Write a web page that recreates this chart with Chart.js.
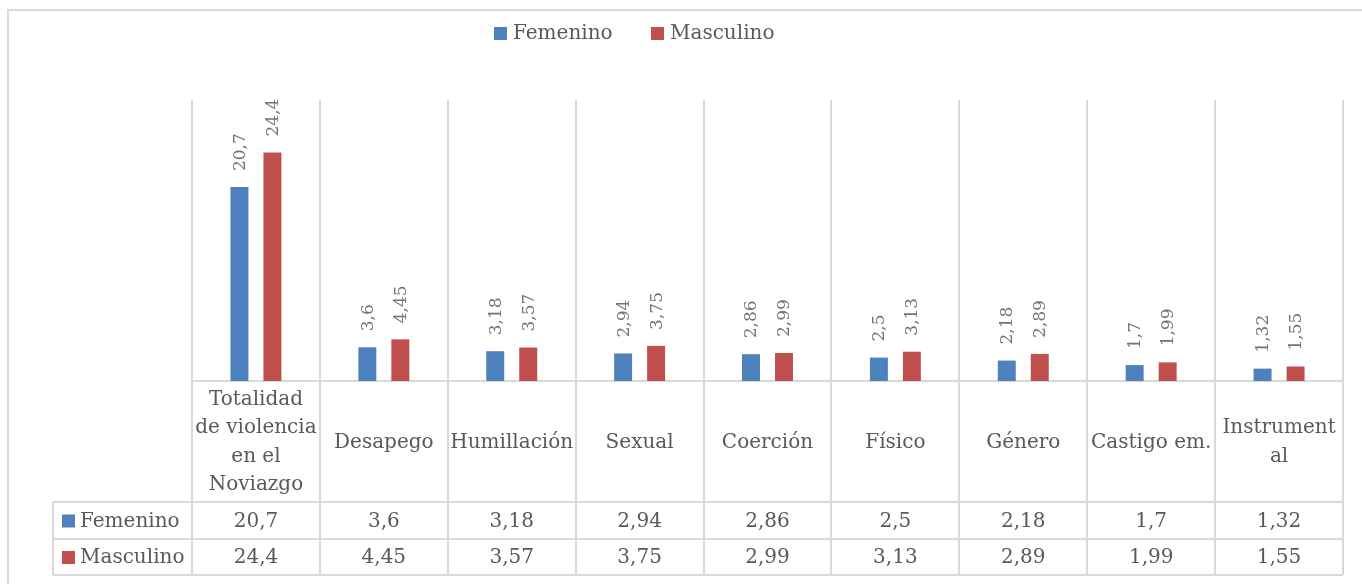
<!DOCTYPE html>
<html>
<head>
<meta charset="utf-8">
<script src="https://cdn.jsdelivr.net/npm/chart.js@4/dist/chart.umd.min.js"></script>
<style>
html,body{margin:0;padding:0;background:#fff;}
#wrap{width:1362px;height:584px;position:relative;}
</style>
</head>
<body>
<div id="wrap"><canvas id="c" width="1362" height="584"></canvas></div>
<script>
const categories = [
  ["Totalidad", "de violencia", "en el", "Noviazgo"],
  ["Desapego"],
  ["Humillación"],
  ["Sexual"],
  ["Coerción"],
  ["Físico"],
  ["Género"],
  ["Castigo em."],
  ["Instrument", "al"]
];
const seriesNames = ["Femenino", "Masculino"];
const femenino = [20.7, 3.6, 3.18, 2.94, 2.86, 2.5, 2.18, 1.7, 1.32];
const masculino = [24.4, 4.45, 3.57, 3.75, 2.99, 3.13, 2.89, 1.99, 1.55];
const yMin = 0;
const yMax = 30;

const FONT = '"DejaVu Serif", "Liberation Serif", serif';
const TEXT = '#595959';
const LABEL = '#737373';
const GRID = '#d9d9d9';
const COLORS = ['#4f81bd', '#c0504d'];

function fmt(v) { return String(v).replace('.', ','); }

const tablePlugin = {
  id: 'tablePlugin',
  beforeDatasetsDraw(chart) {
    const ctx = chart.ctx;
    const area = chart.chartArea;
    const xs = chart.scales.x;
    const n = categories.length;
    const cw = (area.right - area.left) / n;
    const rowTop = 502, rowMid = 539, rowBot = 575, tblLeft = 53;
    ctx.save();
    ctx.strokeStyle = GRID;
    ctx.lineWidth = 2;
    // outer border
    ctx.beginPath();
    ctx.moveTo(8, 584); ctx.lineTo(8, 10); ctx.lineTo(1362, 10);
    ctx.stroke();
    // vertical lines at category boundaries
    ctx.beginPath();
    for (let i = 0; i <= n; i++) {
      const bx = i < n ? xs.getPixelForValue(i) - cw / 2 : xs.getPixelForValue(n - 1) + cw / 2;
      const rx = Math.round(bx);
      ctx.moveTo(rx, area.top);
      ctx.lineTo(rx, rowBot);
    }
    // axis line
    ctx.moveTo(area.left, area.bottom);
    ctx.lineTo(area.right, area.bottom);
    // table rows
    [rowTop, rowMid, rowBot].forEach(y => { ctx.moveTo(tblLeft, y); ctx.lineTo(area.right, y); });
    ctx.moveTo(tblLeft, rowTop); ctx.lineTo(tblLeft, rowBot);
    ctx.stroke();
    ctx.restore();
  },
  afterDatasetsDraw(chart) {
    const ctx = chart.ctx;
    const area = chart.chartArea;
    const xs = chart.scales.x;
    const rowTop = 502, rowMid = 539, rowBot = 575;
    ctx.save();
    // data labels rotated
    ctx.font = '17px ' + FONT;
    ctx.fillStyle = LABEL;
    chart.data.datasets.forEach((ds, di) => {
      const meta = chart.getDatasetMeta(di);
      meta.data.forEach((el, i) => {
        ctx.save();
        ctx.translate(el.x, el.y - 16);
        ctx.rotate(-Math.PI / 2);
        ctx.textAlign = 'left';
        ctx.textBaseline = 'middle';
        ctx.fillText(fmt(ds.data[i]), 0, 1);
        ctx.restore();
      });
    });
    // category labels
    ctx.font = '20px ' + FONT;
    ctx.fillStyle = TEXT;
    ctx.textAlign = 'center';
    ctx.textBaseline = 'middle';
    const lh = 28.5;
    const midY = (area.bottom + rowTop) / 2 + 1;
    categories.forEach((lines, i) => {
      const cx = xs.getPixelForValue(i);
      const start = midY - (lines.length - 1) * lh / 2;
      lines.forEach((t, k) => ctx.fillText(t, cx, start + k * lh));
    });
    // table values
    const rowsY = [(rowTop + rowMid) / 2 + 1, (rowMid + rowBot) / 2 + 1];
    [femenino, masculino].forEach((arr, r) => {
      arr.forEach((v, i) => ctx.fillText(fmt(v), xs.getPixelForValue(i), rowsY[r]));
      // row header
      ctx.fillStyle = COLORS[r];
      ctx.fillRect(62, rowsY[r] - 7, 13, 13);
      ctx.fillStyle = TEXT;
      ctx.textAlign = 'left';
      ctx.fillText(seriesNames[r], 80, rowsY[r]);
      ctx.textAlign = 'center';
    });
    // legend
    const legend = [{x: 494, tx: 513}, {x: 651, tx: 670}];
    legend.forEach((L, r) => {
      ctx.fillStyle = COLORS[r];
      ctx.fillRect(L.x, 27, 13, 13);
      ctx.fillStyle = TEXT;
      ctx.textAlign = 'left';
      ctx.fillText(seriesNames[r], L.tx, 34);
    });
    ctx.restore();
  }
};

new Chart(document.getElementById('c'), {
  type: 'bar',
  data: {
    labels: categories,
    datasets: [
      { label: seriesNames[0], data: femenino, backgroundColor: COLORS[0] },
      { label: seriesNames[1], data: masculino, backgroundColor: COLORS[1] }
    ]
  },
  options: {
    responsive: false,
    animation: false,
    devicePixelRatio: 1,
    layout: { padding: { left: 192, right: 19, top: 100, bottom: 203 } },
    categoryPercentage: 0.516,
    barPercentage: 0.545,
    plugins: { legend: { display: false }, tooltip: { enabled: false } },
    scales: {
      x: { display: false },
      y: { display: false, min: yMin, max: yMax }
    }
  },
  plugins: [tablePlugin]
});
</script>
</body>
</html>
